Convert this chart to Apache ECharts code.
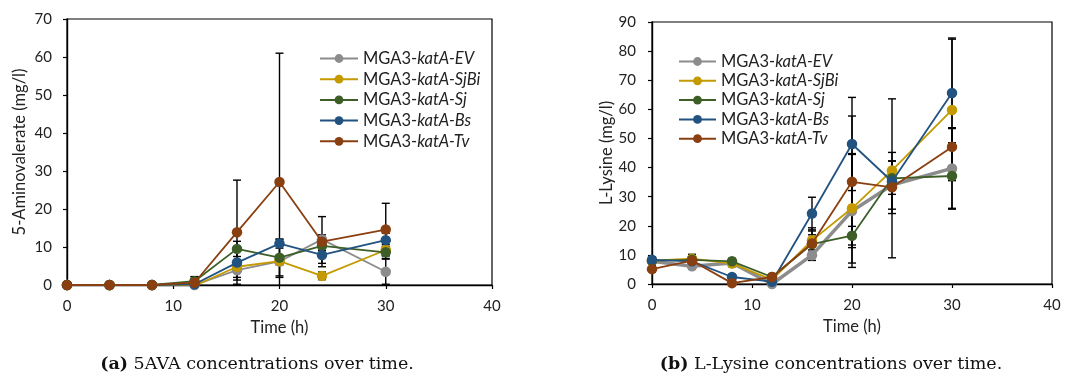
<!DOCTYPE html>
<html>
<head>
<meta charset="utf-8">
<script src="https://cdn.jsdelivr.net/npm/echarts@6/dist/echarts.min.js"></script>
<style>
  html, body { margin: 0; padding: 0; background: #fff; }
  #chart { width: 1089px; height: 373px; }
</style>
</head>
<body>
<div id="chart"></div>
<script>
// Sampling times (h)
const times = [0, 4, 8, 12, 16, 20, 24, 30];

const strainNames = ['MGA3-katA-EV', 'MGA3-katA-SjBi', 'MGA3-katA-Sj', 'MGA3-katA-Bs', 'MGA3-katA-Tv'];
const strainColors = ['#8c8c8c', '#c49a00', '#3d5f27', '#22527f', '#8a3f10'];

// 5-Aminovalerate (mg/l), means and standard deviations
const avaEV   = [0, 0, 0, 0.0, 3.9, 6.2, 12.0, 3.5];
const avaSjBi = [0, 0, 0, -0.2, 4.8, 6.3, 2.4, 9.2];
const avaSj   = [0, 0, 0, 1.0, 9.5, 7.2, 10.3, 8.6];
const avaBs   = [0, 0, 0, 0.2, 5.9, 10.9, 7.9, 11.8];
const avaTv   = [0, 0, 0, 0.6, 13.9, 27.1, 11.4, 14.6];

const avaEVErr   = [0, 0, 0, 0.3, 2.6, 4.2, 1.2, 3.3];
const avaSjBiErr = [0, 0, 0, 0.2, 1.0, 1.0, 1.0, 1.5];
const avaSjErr   = [0, 0, 0, 1.2, 2.0, 4.8, 1.2, 1.6];
const avaBsErr   = [0, 0, 0, 0.4, 3.9, 1.2, 2.2, 1.8];
const avaTvErr   = [0, 0, 0, 1.6, 13.7, 33.9, 6.6, 6.9];

// L-Lysine (mg/l), means and standard deviations
const lysEV   = [7.8, 6.1, 7.2, 0.0, 9.9, 25.1, 34.0, 39.7];
const lysSjBi = [8.0, 8.7, 7.0, 1.5, 15.0, 26.0, 39.0, 59.8];
const lysSj   = [8.0, 8.3, 7.8, 2.4, 13.7, 16.6, 36.3, 37.1];
const lysBs   = [8.3, 7.8, 2.4, 0.8, 24.2, 48.1, 35.2, 65.6];
const lysTv   = [5.1, 8.0, 0.3, 2.4, 13.9, 35.1, 33.2, 47.1];

const lysEVErr   = [1.5, 1.0, 1.2, 0.3, 1.8, 19.4, 8.3, 13.7];
const lysSjBiErr = [1.2, 1.5, 1.0, 0.5, 4.3, 18.8, 6.2, 24.3];
const lysSjErr   = [1.0, 1.0, 1.0, 0.5, 4.5, 3.2, 27.3, 11.4];
const lysBsErr   = [1.0, 0.8, 0.8, 0.5, 5.6, 16.0, 4.4, 18.9];
const lysTvErr   = [1.0, 1.0, 0.5, 0.5, 3.0, 22.6, 9.0, 6.6];

// Axis tick setup
const xTicks = { min: 0, max: 40, interval: 10 };
const avaTicks = { min: 0, max: 70, interval: 10 };
const lysTicks = { min: 0, max: 90, interval: 10 };

const avaMeans = [avaEV, avaSjBi, avaSj, avaBs, avaTv];
const avaErrs = [avaEVErr, avaSjBiErr, avaSjErr, avaBsErr, avaTvErr];
const lysMeans = [lysEV, lysSjBi, lysSj, lysBs, lysTv];
const lysErrs = [lysEVErr, lysSjBiErr, lysSjErr, lysBsErr, lysTvErr];

const uiFont = 'Lato, "Open Sans", sans-serif';
const textColor = '#222';
const labelSize = 15;
const nameSize = 16.5;

// Vertical mean ± SD bars with caps, positioned through the axis scales
function errorBarSeries(axisIdx, means, errs, tag) {
  return {
    type: 'custom',
    name: tag,
    xAxisIndex: axisIdx,
    yAxisIndex: axisIdx,
    clip: true,
    silent: true,
    z: 1,
    data: times.map((t, i) => [t, means[i] - errs[i], means[i] + errs[i], errs[i]]),
    renderItem: function (params, api) {
      if (!api.value(3)) return null;
      const x = api.value(0);
      const lo = api.coord([x, api.value(1)]);
      const hi = api.coord([x, api.value(2)]);
      const cap = 4;
      const style = { stroke: '#000', lineWidth: 1.4, fill: null };
      return {
        type: 'group',
        children: [
          { type: 'line', shape: { x1: lo[0], y1: lo[1], x2: hi[0], y2: hi[1] }, style },
          { type: 'line', shape: { x1: lo[0] - cap, y1: lo[1], x2: lo[0] + cap, y2: lo[1] }, style },
          { type: 'line', shape: { x1: hi[0] - cap, y1: hi[1], x2: hi[0] + cap, y2: hi[1] }, style }
        ]
      };
    }
  };
}

function lineSeries(k, means, axisIdx, width) {
  return {
    type: 'line',
    name: strainNames[k],
    xAxisIndex: axisIdx,
    yAxisIndex: axisIdx,
    data: times.map((t, i) => [t, means[i]]),
    symbol: 'circle',
    symbolSize: 10.5,
    showSymbol: true,
    z: 3 + k,
    itemStyle: { color: strainColors[k] },
    lineStyle: { color: strainColors[k], width: width },
    emphasis: { disabled: true },
    animation: false
  };
}

const series = [];
avaMeans.forEach((m, k) => series.push(errorBarSeries(0, m, avaErrs[k], 'sd-ava-' + k)));
lysMeans.forEach((m, k) => series.push(errorBarSeries(1, m, lysErrs[k], 'sd-lys-' + k)));
avaMeans.forEach((m, k) => series.push(lineSeries(k, m, 0, 1.8)));
lysMeans.forEach((m, k) => series.push(lineSeries(k, m, 1, k === 0 ? 3.5 : 1.8)));

function xAxis(gridIndex) {
  return {
    type: 'value', gridIndex,
    min: xTicks.min, max: xTicks.max, interval: xTicks.interval,
    name: 'Time (h)', nameLocation: 'middle', nameGap: 27,
    nameTextStyle: { fontFamily: uiFont, fontSize: nameSize, color: textColor },
    axisLine: { show: true, onZero: false, lineStyle: { color: '#000', width: 1.4 } },
    axisTick: { show: true, length: 4, lineStyle: { color: '#000', width: 1.2 } },
    axisLabel: { fontFamily: uiFont, fontSize: labelSize, color: textColor, margin: 14 },
    splitLine: { show: false }
  };
}

function yAxis(gridIndex, ticks, title, gap, margin) {
  return {
    type: 'value', gridIndex,
    min: ticks.min, max: ticks.max, interval: ticks.interval,
    name: title, nameLocation: 'middle', nameGap: gap, nameRotate: 90,
    nameTextStyle: { fontFamily: uiFont, fontSize: nameSize, color: textColor },
    axisLine: { show: true, onZero: false, lineStyle: { color: '#000', width: 1.4 } },
    axisTick: { show: true, length: 4, lineStyle: { color: '#000', width: 1.2 } },
    axisLabel: { fontFamily: uiFont, fontSize: labelSize, color: textColor, margin: margin },
    splitLine: { show: false }
  };
}

function legend(left, top, width, gap) {
  return {
    data: strainNames,
    left, top,
    padding: 0,
    orient: 'vertical',
    itemWidth: width, itemHeight: 11, itemGap: gap,
    selectedMode: false,
    formatter: function (name) {
      const cut = name.indexOf('-');
      return '{n|' + name.slice(0, cut + 1) + '}{i|' + name.slice(cut + 1) + '}';
    },
    textStyle: {
      fontFamily: uiFont, fontSize: nameSize, color: textColor,
      rich: {
        n: { fontFamily: uiFont, fontSize: nameSize, color: textColor },
        i: { fontFamily: uiFont, fontSize: nameSize, color: textColor, fontStyle: 'italic' }
      }
    }
  };
}

function caption(id, x, tag, body) {
  return {
    id, type: 'text', x, y: 364,
    style: {
      text: '{b|' + tag + '} ' + body,
      fontFamily: '"DejaVu Serif", serif', fontSize: 17.5, fill: '#111',
      align: 'center', verticalAlign: 'middle',
      rich: { b: { fontWeight: 'bold', fontFamily: '"DejaVu Serif", serif', fontSize: 17.5, fill: '#111' } }
    }
  };
}

const chart = echarts.init(document.getElementById('chart'), null, { renderer: 'canvas' });
chart.setOption({
  animation: false,
  backgroundColor: '#fff',
  grid: [
    { left: 67, top: 19, width: 425, height: 266, show: true, borderColor: '#000', borderWidth: 1.2, backgroundColor: 'transparent' },
    { left: 652, top: 22, width: 400, height: 262, show: true, borderColor: '#000', borderWidth: 1.2, backgroundColor: 'transparent' }
  ],
  xAxis: [xAxis(0), xAxis(1)],
  yAxis: [
    yAxis(0, avaTicks, '5-Aminovalerate (mg/l)', 39, 15),
    yAxis(1, lysTicks, 'L-Lysine (mg/l)', 36, 16)
  ],
  legend: [
    legend(319, 50, 38, 3.7),
    legend(678, 53, 37, 2.3)
  ],
  graphic: [
    caption('capA', 257, '(a)', '5AVA concentrations over time.'),
    caption('capB', 831, '(b)', 'L-Lysine concentrations over time.')
  ],
  series
});
</script>
</body>
</html>
